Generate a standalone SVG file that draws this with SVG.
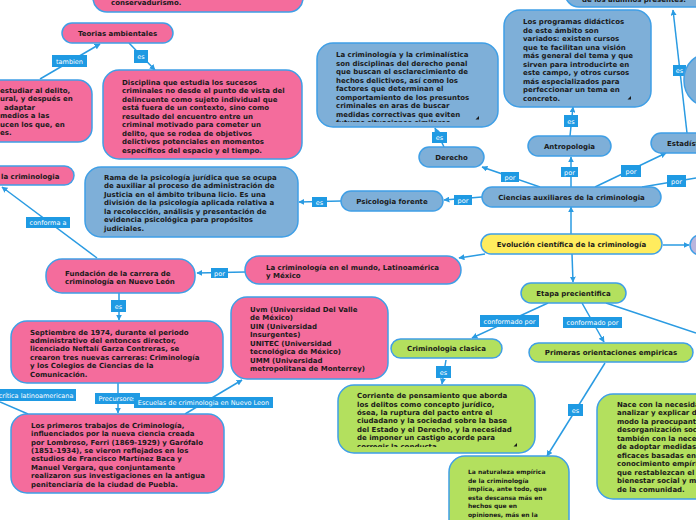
<svg xmlns="http://www.w3.org/2000/svg" width="696" height="520" viewBox="0 0 696 520">
<style>
.n{stroke:#3f9fe6;stroke-width:1.5}
.pink{fill:#f46c9c}
.blue{fill:#7eafd8}
.green{fill:#b3e05e}
.yellow{fill:#ffec5e}
.lav{fill:#bab5dd}
.t{font-family:"DejaVu Sans",Verdana,sans-serif;font-weight:bold;font-size:7px;fill:#1a1a1a}
.s{font-size:6px}
.m{text-anchor:middle}
.c{stroke:#2a9be2;stroke-width:1.5;fill:none}
.a{marker-end:url(#ar)}
.lb rect{fill:#1f9ae3}
.lb text{font-family:"DejaVu Sans",Verdana,sans-serif;font-size:6.5px;fill:#fff;text-anchor:middle}
.rz{fill:#1a1a1a}
</style>
<defs>
<marker id="ar" viewBox="0 0 10 10" refX="9" refY="5" markerWidth="6" markerHeight="6" markerUnits="userSpaceOnUse" orient="auto">
<path d="M0,0 L10,5 L0,10 z" fill="#2a9be2"/>
</marker>
<clipPath id="cp1"><rect x="317" y="43" width="181" height="79"/></clipPath>
<clipPath id="cp2"><rect x="338" y="385" width="197" height="62"/></clipPath>
</defs>

<g id="connectors">
<line class="c a" x1="40" y1="79" x2="100" y2="44"/>
<line class="c a" x1="129" y1="43" x2="155" y2="70"/>
<line class="c a" x1="444" y1="147" x2="435" y2="128"/>
<line class="c a" x1="540" y1="187" x2="482" y2="167"/>
<line class="c a" x1="571" y1="187" x2="571" y2="157"/>
<line class="c a" x1="570" y1="136" x2="573" y2="107"/>
<line class="c a" x1="595" y1="187" x2="666" y2="153"/>
<line class="c" x1="642" y1="187" x2="696" y2="178"/>
<line class="c a" x1="687" y1="133" x2="673" y2="10"/>
<line class="c a" x1="482" y1="197" x2="444" y2="200"/>
<line class="c a" x1="341" y1="201" x2="299" y2="202"/>
<line class="c a" x1="97" y1="258" x2="2" y2="187"/>
<line class="c a" x1="245" y1="272" x2="197" y2="273"/>
<line class="c a" x1="485" y1="254" x2="459" y2="258"/>
<line class="c a" x1="571" y1="234" x2="571" y2="207"/>
<line class="c a" x1="663" y1="245" x2="689" y2="245"/>
<line class="c a" x1="572" y1="254" x2="573" y2="282"/>
<line class="c a" x1="548" y1="303" x2="472" y2="338"/>
<line class="c a" x1="582" y1="303" x2="604" y2="342"/>
<line class="c" x1="606" y1="303" x2="696" y2="333"/>
<line class="c a" x1="446" y1="360" x2="442" y2="384"/>
<line class="c a" x1="605" y1="363" x2="547" y2="456"/>
<line class="c a" x1="119" y1="293" x2="119" y2="320"/>
<line class="c a" x1="118" y1="383" x2="118" y2="413"/>
<line class="c a" x1="185" y1="414" x2="242" y2="380"/>
<line class="c" x1="28" y1="414" x2="0" y2="402"/>
</g>

<g id="labels">
<g class="lb"><rect x="52" y="55" width="35" height="12"/><text x="69.5" y="63.5">tambien</text></g>
<g class="lb"><rect x="134" y="50" width="14" height="13"/><text x="141" y="59">es</text></g>
<g class="lb"><rect x="432" y="132" width="15" height="11"/><text x="439.5" y="140">es</text></g>
<g class="lb"><rect x="501" y="172" width="18" height="10"/><text x="510" y="179.5">por</text></g>
<g class="lb"><rect x="561" y="167" width="17" height="10"/><text x="569.5" y="174.5">por</text></g>
<g class="lb"><rect x="564" y="115" width="14" height="12"/><text x="571" y="123.5">es</text></g>
<g class="lb"><rect x="621" y="165" width="20" height="12"/><text x="631" y="173.5">por</text></g>
<g class="lb"><rect x="667" y="175" width="19" height="12"/><text x="676.5" y="183.5">por</text></g>
<g class="lb"><rect x="673" y="65" width="13" height="11"/><text x="679.5" y="73">es</text></g>
<g class="lb"><rect x="454" y="195" width="18" height="10"/><text x="463" y="202.5">por</text></g>
<g class="lb"><rect x="312" y="197" width="15" height="10"/><text x="319.5" y="204.5">es</text></g>
<g class="lb"><rect x="26" y="217" width="44" height="11"/><text x="48" y="225">conforma a</text></g>
<g class="lb"><rect x="211" y="268" width="17" height="10"/><text x="219.5" y="275.5">por</text></g>
<g class="lb"><rect x="480" y="315" width="59" height="12"/><text x="509.5" y="323.5">conformado por</text></g>
<g class="lb"><rect x="563" y="317" width="59" height="11"/><text x="592.5" y="325">conformado por</text></g>
<g class="lb"><rect x="436" y="366" width="15" height="12"/><text x="443.5" y="374.5">es</text></g>
<g class="lb"><rect x="568" y="404" width="15" height="12"/><text x="575.5" y="412.5">es</text></g>
<g class="lb"><rect x="111" y="300" width="15" height="12"/><text x="118.5" y="308.5">es</text></g>
<g class="lb"><rect x="95" y="393" width="45" height="11"/><text x="117.5" y="401">Precursores</text></g>
<g class="lb"><rect x="134" y="397" width="139" height="11"/><text x="203.5" y="405">Escuelas de criminologia en Nuevo Leon</text></g>
<g class="lb"><rect x="-10" y="389" width="86" height="12"/><text x="36" y="397.5">crítica latinoamericana</text></g>
</g>

<g id="n-conservadurismo">
<rect class="n pink" x="93" y="-30" width="210" height="42" rx="14"/>
<text class="t" x="111" y="5">conservadurismo.</text>
</g>

<g id="n-teorias">
<rect class="n pink" x="62" y="23" width="111" height="20" rx="10"/>
<text class="t m" x="117.5" y="35.5">Teorias ambientales</text>
</g>

<g id="n-estudiar">
<rect class="n pink" x="-120" y="80" width="212" height="62" rx="14"/>
<text class="t" x="0" y="92.5">estudiar al delito,</text>
<text class="t" x="0" y="101">ural, y después en</text>
<text class="t" x="4" y="109.5">adaptar</text>
<text class="t" x="0" y="118">medios a las</text>
<text class="t" x="0" y="126.5">ucen los que, en</text>
<text class="t" x="0" y="135">es.</text>
</g>

<g id="n-disciplina">
<rect class="n pink" x="103" y="70" width="199" height="89" rx="16"/>
<text class="t" x="122" y="84.5">Disciplina que estudia los sucesos</text>
<text class="t" x="122" y="93">criminales no desde el punto de vista del</text>
<text class="t" x="122" y="101.5">delincuente como sujeto individual que</text>
<text class="t" x="122" y="110">está fuera de un contexto, sino como</text>
<text class="t" x="122" y="118.5">resultado del encuentro entre un</text>
<text class="t" x="122" y="127">criminal motivado para cometer un</text>
<text class="t" x="122" y="135.5">delito, que se rodea de objetivos</text>
<text class="t" x="122" y="144">delictivos potenciales en momentos</text>
<text class="t" x="122" y="152.5">específicos del espacio y el tiempo.</text>
</g>

<g id="n-criminologia-criminalistica">
<rect class="n blue" x="317" y="43" width="181" height="84" rx="16"/>
<g clip-path="url(#cp1)">
<text class="t" x="336" y="57">La criminología y la criminalística</text>
<text class="t" x="336" y="65.5">son disciplinas del derecho penal</text>
<text class="t" x="336" y="74">que buscan el esclarecimiento de</text>
<text class="t" x="336" y="82.5">hechos delictivos, así como los</text>
<text class="t" x="336" y="91">factores que determinan el</text>
<text class="t" x="336" y="99.5">comportamiento de los presuntos</text>
<text class="t" x="336" y="108">criminales en aras de buscar</text>
<text class="t" x="336" y="116.5">medidas correctivas que eviten</text>
<text class="t" x="336" y="125">futuras situaciones similares</text>
</g>
<path class="rz" d="M479,116 L479,119.5 L475.5,119.5 z"/>
</g>

<g id="n-derecho">
<rect class="n blue" x="419" y="147" width="65" height="20" rx="10"/>
<text class="t m" x="451.5" y="159.5">Derecho</text>
</g>

<g id="n-programas">
<rect class="n blue" x="504" y="10" width="147" height="97" rx="16"/>
<text class="t" x="523" y="24">Los programas didácticos</text>
<text class="t" x="523" y="32.5">de este ámbito son</text>
<text class="t" x="523" y="41">variados: existen cursos</text>
<text class="t" x="523" y="49.5">que te facilitan una visión</text>
<text class="t" x="523" y="58">más general del tema y que</text>
<text class="t" x="523" y="66.5">sirven para introducirte en</text>
<text class="t" x="523" y="75">este campo, y otros cursos</text>
<text class="t" x="523" y="83.5">más especializados para</text>
<text class="t" x="523" y="92">perfeccionar un tema en</text>
<text class="t" x="523" y="100.5">concreto.</text>
<path class="rz" d="M631,96 L631,99.5 L627.5,99.5 z"/>
</g>

<g id="n-antropologia">
<rect class="n blue" x="528" y="136" width="83" height="20" rx="10"/>
<text class="t m" x="569.5" y="148.5">Antropologia</text>
</g>

<g id="n-estadistica">
<rect class="n blue" x="651" y="133" width="100" height="20" rx="10"/>
<text class="t" x="667" y="145.5">Estadística</text>
</g>

<g id="n-top-right">
<rect class="n blue" x="565" y="-40" width="200" height="47" rx="14"/>
<text class="t" x="582" y="1.5">de los alumnos presentes.</text>
</g>

<g id="n-right-blue">
<rect class="n blue" x="684" y="53" width="60" height="54" rx="26"/>
</g>

<g id="n-ciencias">
<rect class="n blue" x="482" y="187" width="179" height="20" rx="10"/>
<text class="t m" x="571.5" y="199.5">Ciencias auxiliares de la criminologia</text>
</g>

<g id="n-psicologia">
<rect class="n blue" x="341" y="191" width="102" height="20" rx="10"/>
<text class="t m" x="392" y="203.5">Psicologia forente</text>
</g>

<g id="n-rama">
<rect class="n blue" x="85" y="167" width="213" height="70" rx="16"/>
<text class="t" x="104" y="179.5">Rama de la psicología jurídica que se ocupa</text>
<text class="t" x="104" y="188">de auxiliar al proceso de administración de</text>
<text class="t" x="104" y="196.5">Justicia en el ámbito tribuna licio. Es una</text>
<text class="t" x="104" y="205">división de la psicología aplicada relativa a</text>
<text class="t" x="104" y="213.5">la recolección, análisis y presentación de</text>
<text class="t" x="104" y="222">evidencia psicológica para propósitos</text>
<text class="t" x="104" y="230.5">judiciales.</text>
</g>

<g id="n-la-criminologia">
<rect class="n pink" x="-60" y="166" width="134" height="19" rx="9.5"/>
<text class="t" x="1" y="178.5">la criminologia</text>
</g>

<g id="n-fundacion">
<rect class="n pink" x="46" y="259" width="149" height="34" rx="16"/>
<text class="t" x="65" y="275.5">Fundación de la carrera de</text>
<text class="t" x="65" y="284">criminología en Nuevo León</text>
</g>

<g id="n-mundo">
<rect class="n pink" x="245" y="256" width="216" height="28" rx="14"/>
<text class="t" x="266" y="269.5">La criminología en el mundo, Latinoamérica</text>
<text class="t" x="266" y="277.5">y México</text>
</g>

<g id="n-evolucion">
<rect class="n yellow" x="481" y="234" width="181" height="20" rx="10"/>
<text class="t m" x="571.5" y="246.5">Evolución científica de la criminología</text>
</g>

<g id="n-lavender">
<rect class="n lav" x="690" y="235" width="40" height="20" rx="10"/>
</g>

<g id="n-etapa">
<rect class="n green" x="521" y="283" width="105" height="20" rx="10"/>
<text class="t m" x="573.5" y="295.5">Etapa precientifica</text>
</g>

<g id="n-clasica">
<rect class="n green" x="391" y="339" width="111" height="19" rx="9.5"/>
<text class="t m" x="446.5" y="351">Criminologia clasica</text>
</g>

<g id="n-corriente">
<rect class="n green" x="338" y="385" width="197" height="68" rx="16"/>
<g clip-path="url(#cp2)">
<text class="t" x="357" y="398">Corriente de pensamiento que aborda</text>
<text class="t" x="357" y="406.5">los delitos como concepto jurídico,</text>
<text class="t" x="357" y="415">ósea, la ruptura del pacto entre el</text>
<text class="t" x="357" y="423">ciudadano y la sociedad sobre la base</text>
<text class="t" x="357" y="431.5">del Estado y el Derecho, y la necesidad</text>
<text class="t" x="357" y="440">de imponer un castigo acorde para</text>
<text class="t" x="357" y="448.5">corregir la conducta.</text>
</g>
<path class="rz" d="M517,443 L517,446.5 L513.5,446.5 z"/>
</g>

<g id="n-primeras">
<rect class="n green" x="529" y="343" width="164" height="19" rx="9.5"/>
<text class="t m" x="611" y="355">Primeras orientaciones empiricas</text>
</g>

<g id="n-naturaleza">
<rect class="n green" x="449" y="456" width="120" height="90" rx="16"/>
<text class="t s" x="468" y="474">La naturaleza empírica</text>
<text class="t s" x="468" y="482.5">de la criminología</text>
<text class="t s" x="468" y="491">implica, ante todo, que</text>
<text class="t s" x="468" y="499.5">esta descansa más en</text>
<text class="t s" x="468" y="508">hechos que en</text>
<text class="t s" x="468" y="516.5">opiniones, más en la</text>
</g>

<g id="n-nace">
<rect class="n green" x="597" y="394" width="160" height="105" rx="16"/>
<text class="t" x="617" y="406.5">Nace con la necesidad</text>
<text class="t" x="617" y="415">analizar y explicar de</text>
<text class="t" x="617" y="423.5">modo la preocupante</text>
<text class="t" x="617" y="432">desorganización social</text>
<text class="t" x="617" y="440.5">también con la necesidad</text>
<text class="t" x="617" y="449">de adoptar medidas</text>
<text class="t" x="617" y="457.5">eficaces basadas en</text>
<text class="t" x="617" y="466">conocimiento empírico</text>
<text class="t" x="617" y="474.5">que restablezcan el</text>
<text class="t" x="617" y="483">bienestar social y moral</text>
<text class="t" x="617" y="491.5">de la comunidad.</text>
</g>

<g id="n-septiembre">
<rect class="n pink" x="11" y="321" width="212" height="62" rx="16"/>
<text class="t" x="30" y="334.5">Septiembre de 1974, durante el periodo</text>
<text class="t" x="30" y="342.5">administrativo del entonces director,</text>
<text class="t" x="30" y="351">licenciado Neftalí Garza Contreras, se</text>
<text class="t" x="30" y="359.5">crearon tres nuevas carreras: Criminología</text>
<text class="t" x="30" y="368">y los Colegios de Ciencias de la</text>
<text class="t" x="30" y="376.5">Comunicación.</text>
</g>

<g id="n-uvm">
<rect class="n pink" x="231" y="297" width="157" height="82" rx="16"/>
<text class="t" x="250" y="311.5">Uvm (Universidad Del Valle</text>
<text class="t" x="250" y="320">de México)</text>
<text class="t" x="250" y="328.5">UIN (Universidad</text>
<text class="t" x="250" y="337">Insurgentes)</text>
<text class="t" x="250" y="345.5">UNITEC (Universidad</text>
<text class="t" x="250" y="354">tecnológica de México)</text>
<text class="t" x="250" y="362.5">UMM (Universidad</text>
<text class="t" x="250" y="371">metropolitana de Monterrey)</text>
</g>

<g id="n-primeros">
<rect class="n pink" x="11" y="414" width="213" height="79" rx="16"/>
<text class="t" x="31" y="427.5">Los primeros trabajos de Criminología,</text>
<text class="t" x="31" y="436">influenciados por la nueva ciencia creada</text>
<text class="t" x="31" y="444.5">por Lombroso, Ferri (1869-1929) y Garófalo</text>
<text class="t" x="31" y="452.5">(1851-1934), se vieron reflejados en los</text>
<text class="t" x="31" y="461">estudios de Francisco Martínez Baca y</text>
<text class="t" x="31" y="469.5">Manuel Vergara, que conjuntamente</text>
<text class="t" x="31" y="478">realizaron sus investigaciones en la antigua</text>
<text class="t" x="31" y="486.5">penitenciaría de la ciudad de Puebla.</text>
</g>
</svg>
